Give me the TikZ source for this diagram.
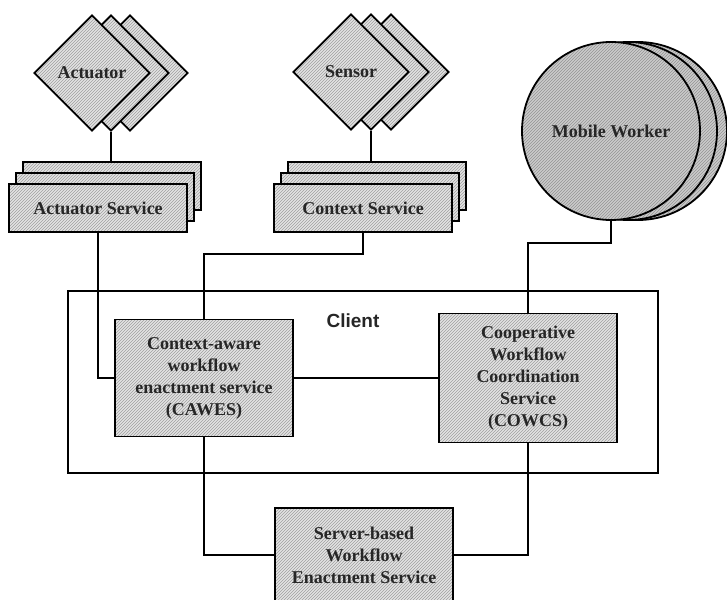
\documentclass[tikz,border=0pt]{standalone}
\usepackage{fontspec}
\newfontfamily\tnr{Liberation Serif}
\newfontfamily\arl{Liberation Sans}
\usetikzlibrary{shapes.geometric,patterns}
\begin{document}
\begin{tikzpicture}[x=1pt,y=-1pt,
  hatch/.style={draw=black,line width=1.8pt,preaction={fill=gray!22},pattern=north east lines,pattern color=gray!75},
  darkhatch/.style={draw=black,line width=1.8pt,preaction={fill=gray!40},pattern=north east lines,pattern color=gray!85},
  lbl/.style={font={\tnr\bfseries\fontsize{18}{22}\selectfont},align=center,text=black!85},
  dia/.style={hatch,shape=diamond,minimum width=116pt,minimum height=116pt,inner sep=0pt},
  sbox/.style={hatch,shape=rectangle,minimum width=178pt,minimum height=48pt,inner sep=0pt},
  circ/.style={darkhatch,shape=circle,minimum size=178pt,inner sep=0pt},
  mainbox/.style={hatch,shape=rectangle,minimum width=178pt,inner sep=0pt},
  wire/.style={draw=black,line width=1.8pt}
]
\useasboundingbox (0,0) rectangle (727,599);
\begin{scope}
\clip (0,0) rectangle (727,599);
% Actuator diamonds
\node[dia] (act3) at (130,73) {};
\node[dia] (act2) at (111,73) {};
\node[dia,lbl] (act1) at (92,73) {Actuator};
% Sensor diamonds
\node[dia] (sen3) at (391,72) {};
\node[dia] (sen2) at (371,72) {};
\node[dia,lbl] (sen1) at (351,72) {Sensor};
% Actuator service boxes
\node[sbox] (aserv3) at (112,186) {};
\node[sbox] (aserv2) at (105,197) {};
\node[sbox,lbl] (aserv1) at (98,208) {Actuator Service};
% Context service boxes
\node[sbox] (cserv3) at (377,186) {};
\node[sbox] (cserv2) at (370,197) {};
\node[sbox,lbl] (cserv1) at (363,208) {Context Service};
% Mobile worker circles
\node[circ] (mw3) at (638,131) {};
\node[circ] (mw2) at (628,131) {};
\node[circ,lbl] (mw1) at (611,131) {Mobile Worker};
% Client box
\node[draw=black,line width=1.8pt,minimum width=590pt,minimum height=182pt,inner sep=0pt] (client) at (363,382) {};
\node[font={\arl\bfseries\fontsize{19}{22}\selectfont},text=black!85] (clientlbl) at (353,321) {Client};
% Main services
\node[mainbox,lbl,minimum height=117pt] (cawes) at (204,378) {Context-aware\\workflow\\enactment service\\(CAWES)};
\node[mainbox,lbl,minimum height=129pt] (cowcs) at (528,378) {Cooperative\\Workflow\\Coordination\\Service\\(COWCS)};
\node[mainbox,minimum height=94pt] (server) at (364,555) {};
\node[lbl] (serverlbl) at (364,555) {Server-based\\Workflow\\Enactment Service};
% Connectors
\draw[wire] (act2.south) -- (act2.south |- aserv3.north);
\draw[wire] (sen2.south) -- (sen2.south |- cserv3.north);
\draw[wire] (aserv1.south) |- (cawes.west);
\draw[wire] (cserv1.south) -- ++(0,21) -| (cawes.north);
\draw[wire] (mw1.south) -- ++(0,22) -| (cowcs.north);
\draw[wire] (cawes.east) -- (cowcs.west);
\draw[wire] (cawes.south) |- (server.west);
\draw[wire] (cowcs.south) |- (server.east);
\end{scope}
\end{tikzpicture}
\end{document}
